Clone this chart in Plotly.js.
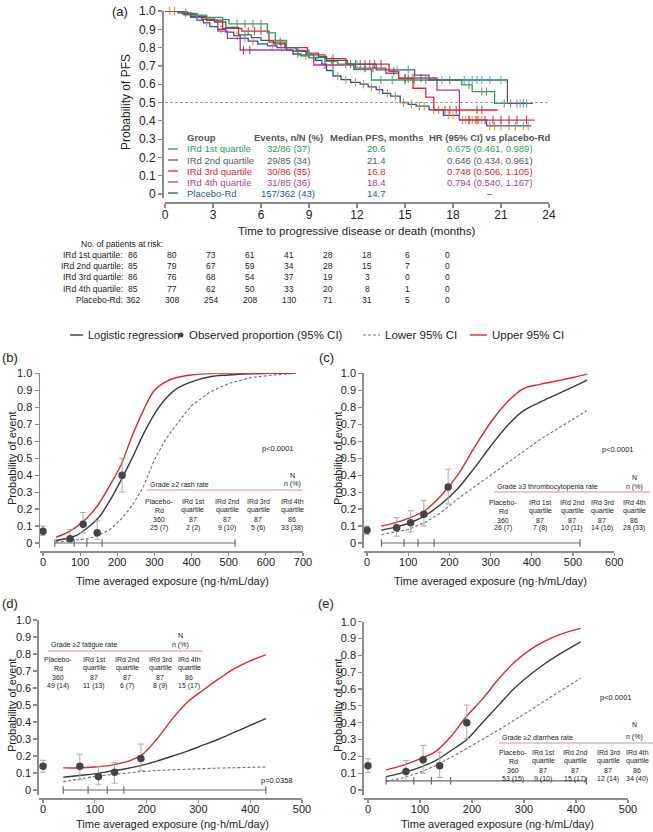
<!DOCTYPE html>
<html><head><meta charset="utf-8">
<script src="https://cdn.plot.ly/plotly-3.0.1.min.js"></script>
<style>html,body{margin:0;padding:0;background:#fff}#chart{width:653px;height:832px}</style>
</head><body><div id="chart"></div>
<script>
// ---------------- DATA ----------------
// Panel (a) Kaplan-Meier PFS
const kmGroups = ['IRd 1st quartile','IRd 2nd quartile','IRd 3rd quartile','IRd 4th quartile','Placebo-Rd'];
const kmEvents = ['32/86 (37)','29/85 (34)','30/86 (35)','31/85 (36)','157/362 (43)'];
const kmMedians = ['20.6','21.4','16.8','18.4','14.7'];
const kmHR = ['0.675 (0.461, 0.989)','0.646 (0.434, 0.961)','0.748 (0.506, 1.105)','0.794 (0.540, 1.167)','–'];

const q1Time = [0, 1.0, 1.7, 2.6, 3.6, 4.0, 6.4, 6.9, 7.6, 8.3, 9.0, 10.0, 10.8, 11.8, 12.9, 18.55, 19.2, 20.6, 22.7];
const q1Surv = [1.0, 0.99, 0.977, 0.965, 0.953, 0.93, 0.88, 0.84, 0.80, 0.76, 0.745, 0.725, 0.71, 0.68, 0.623, 0.596, 0.56, 0.495, 0.495];
const q1Cens = [1.3, 4.5, 5.0, 5.5, 6.0, 9.5, 10.4, 11.3, 13.5, 14.2, 15.0, 15.6, 16.3, 17.8, 19.0, 19.8, 20.1, 21.2, 21.6, 22.0, 22.4];

const q2Time = [0, 1.1, 1.6, 2.3, 3.1, 3.8, 4.6, 5.4, 6.0, 6.8, 7.5, 8.2, 8.8, 9.6, 10.1, 11.4, 13.2, 15.6, 16.5, 21.4, 23.0];
const q2Surv = [1.0, 0.985, 0.97, 0.955, 0.94, 0.91, 0.87, 0.855, 0.84, 0.82, 0.80, 0.785, 0.77, 0.75, 0.73, 0.71, 0.678, 0.65, 0.623, 0.495, 0.495];
const q2Cens = [2.0, 5.0, 9.0, 12.0, 14.5, 15.2, 17.3, 18.7, 19.2, 19.5, 19.8, 20.3, 21.0, 22.2, 22.6];

const q3Time = [0, 1.4, 2.0, 2.6, 3.6, 4.8, 6.5, 7.5, 8.9, 10.0, 11.3, 14.0, 14.6, 15.5, 16.3, 16.8, 20.8];
const q3Surv = [1.0, 0.985, 0.97, 0.95, 0.905, 0.89, 0.83, 0.80, 0.76, 0.74, 0.71, 0.67, 0.63, 0.578, 0.53, 0.459, 0.459];
const q3Cens = [5.2, 5.6, 6.0, 6.9, 7.2, 10.5, 11.6, 11.9, 12.2, 12.5, 12.8, 13.1, 13.5, 14.3, 15.0, 15.2, 17.5, 17.8, 18.2, 19.5, 19.8];

const q4Time = [0, 1.2, 2.0, 2.6, 3.3, 3.9, 4.7, 8.0, 9.0, 9.3, 11.8, 13.8, 14.6, 17.0, 18.4, 23.1];
const q4Surv = [1.0, 0.98, 0.965, 0.95, 0.89, 0.85, 0.787, 0.78, 0.76, 0.705, 0.688, 0.66, 0.634, 0.568, 0.404, 0.404];
const q4Cens = [4.9, 5.3, 10.0, 10.5, 12.5, 13.0, 15.0, 15.5, 16.0, 19.0, 19.5, 20.0, 20.5, 21.0, 21.5, 22.0, 22.6];

const pbTime = [0, 0.8, 1.2, 1.6, 2.0, 2.4, 2.8, 3.3, 3.8, 4.3, 4.7, 5.2, 5.8, 6.4, 7.0, 7.6, 8.0, 8.5, 9.0, 9.4, 9.8, 10.1, 10.5, 11.0, 11.6, 12.2, 12.7, 13.2, 13.6, 14.1, 14.7, 15.2, 15.7, 16.5, 17.4, 18.4, 20.1, 22.9];
const pbSurv = [1.0, 0.99, 0.98, 0.965, 0.95, 0.935, 0.915, 0.9, 0.885, 0.865, 0.85, 0.835, 0.82, 0.81, 0.8, 0.785, 0.765, 0.755, 0.745, 0.73, 0.71, 0.675, 0.645, 0.625, 0.61, 0.6, 0.585, 0.57, 0.55, 0.535, 0.5, 0.49, 0.48, 0.46, 0.43, 0.405, 0.372, 0.372];
const pbCens = [0.3, 0.6, 2.6, 3.5, 4.5, 5.0, 5.5, 6.7, 7.3, 8.3, 8.8, 10.8, 11.3, 11.9, 12.4, 12.9, 13.4, 13.9, 14.4, 14.9, 15.4, 15.9, 16.2, 16.8, 17.1, 17.7, 18.0, 18.6, 18.8, 19.0, 19.2, 19.4, 19.6, 19.8, 20.3, 20.6, 21.0, 21.5, 21.9, 22.4, 22.7];

const monthTicks = [0, 3, 6, 9, 12, 15, 18, 21, 24];

// Number at risk
const riskLabels = ['IRd 1st quartile:','IRd 2nd quartile:','IRd 3rd quartile:','IRd 4th quartile:','Placebo-Rd:'];
const riskQ1 = [86, 80, 73, 61, 41, 28, 18, 6, 0];
const riskQ2 = [85, 79, 67, 59, 34, 28, 15, 7, 0];
const riskQ3 = [86, 76, 68, 54, 37, 19, 3, 0, 0];
const riskQ4 = [85, 77, 62, 50, 33, 20, 8, 1, 0];
const riskPb = [362, 308, 254, 208, 130, 71, 31, 5, 0];

// Exposure-response panels: table columns
const colTop = ['Placebo-','IRd 1st','IRd 2nd','IRd 3rd','IRd 4th'];
const colBot = ['Rd','quartile','quartile','quartile','quartile'];
const groupN = [360, 87, 87, 87, 86];

// (b) rash
const rashN = [25, 2, 9, 5, 33];
const rashPct = [7, 2, 10, 6, 38];
const rashObsX = [0, 73, 108, 146, 213];
const rashObsY = [0.07, 0.025, 0.11, 0.06, 0.40];
const rashObsLo = [0.045, 0.005, 0.06, 0.02, 0.30];
const rashObsHi = [0.10, 0.08, 0.18, 0.13, 0.50];
const rashCurveX = [35, 60, 90, 120, 150, 180, 210, 240, 270, 300, 330, 360, 400, 450, 500, 560, 620, 680];
const rashFit = [0.015, 0.025, 0.045, 0.09, 0.15, 0.25, 0.37, 0.50, 0.64, 0.76, 0.85, 0.91, 0.95, 0.98, 0.99, 0.997, 1.0, 1.0];
const rashUpper = [0.035, 0.055, 0.095, 0.15, 0.23, 0.34, 0.46, 0.63, 0.78, 0.90, 0.95, 0.975, 0.99, 0.998, 1.0, 1.0, 1.0, 1.0];
const rashLower = [0.005, 0.01, 0.015, 0.025, 0.045, 0.08, 0.14, 0.22, 0.33, 0.49, 0.61, 0.70, 0.81, 0.89, 0.94, 0.975, 0.99, 1.0];
const rashBar = [32, 84, 118, 159, 517];

// (c) thrombocytopenia
const thrN = [26, 7, 10, 14, 28];
const thrPct = [7, 8, 11, 16, 33];
const thrObsX = [0, 72, 106, 138, 197];
const thrObsY = [0.075, 0.09, 0.12, 0.17, 0.33];
const thrObsLo = [0.05, 0.04, 0.065, 0.10, 0.23];
const thrObsHi = [0.10, 0.15, 0.19, 0.25, 0.435];
const thrCurveX = [35, 70, 100, 140, 180, 220, 260, 300, 340, 380, 420, 460, 500, 534];
const thrFit = [0.075, 0.095, 0.115, 0.16, 0.23, 0.32, 0.44, 0.57, 0.69, 0.78, 0.83, 0.875, 0.92, 0.96];
const thrUpper = [0.10, 0.12, 0.145, 0.19, 0.28, 0.40, 0.56, 0.71, 0.83, 0.91, 0.935, 0.955, 0.975, 0.995];
const thrLower = [0.05, 0.065, 0.08, 0.12, 0.18, 0.26, 0.33, 0.40, 0.47, 0.54, 0.61, 0.67, 0.73, 0.78];
const thrBar = [35, 90, 124, 163, 517];

// (d) fatigue
const fatN = [49, 11, 6, 8, 15];
const fatPct = [14, 13, 7, 9, 17];
const fatObsX = [0, 71, 107, 138, 189];
const fatObsY = [0.14, 0.14, 0.08, 0.105, 0.185];
const fatObsLo = [0.105, 0.06, 0.03, 0.04, 0.115];
const fatObsHi = [0.175, 0.21, 0.14, 0.16, 0.27];
const fatCurveX = [39, 70, 100, 130, 160, 190, 220, 250, 280, 310, 340, 370, 400, 430];
const fatFit = [0.075, 0.085, 0.095, 0.11, 0.125, 0.145, 0.17, 0.20, 0.23, 0.265, 0.30, 0.34, 0.38, 0.42];
const fatUpper = [0.13, 0.13, 0.135, 0.145, 0.165, 0.205, 0.30, 0.42, 0.52, 0.59, 0.655, 0.715, 0.76, 0.795];
const fatLower = [0.048, 0.065, 0.08, 0.09, 0.10, 0.108, 0.115, 0.12, 0.123, 0.126, 0.129, 0.131, 0.133, 0.135];
const fatBar = [39, 87, 124, 156, 430];

// (e) diarrhea
const diaN = [53, 9, 15, 12, 34];
const diaPct = [15, 10, 17, 14, 40];
const diaObsX = [0, 73, 106, 138, 190];
const diaObsY = [0.145, 0.11, 0.18, 0.145, 0.40];
const diaObsLo = [0.105, 0.05, 0.10, 0.075, 0.305];
const diaObsHi = [0.185, 0.175, 0.265, 0.225, 0.505];
const diaCurveX = [35, 70, 100, 130, 160, 190, 220, 250, 280, 310, 340, 370, 409];
const diaFit = [0.08, 0.105, 0.135, 0.175, 0.235, 0.30, 0.40, 0.50, 0.60, 0.68, 0.75, 0.81, 0.88];
const diaUpper = [0.12, 0.15, 0.185, 0.23, 0.32, 0.44, 0.54, 0.655, 0.755, 0.83, 0.885, 0.925, 0.96];
const diaLower = [0.05, 0.075, 0.105, 0.145, 0.195, 0.245, 0.30, 0.355, 0.41, 0.47, 0.53, 0.59, 0.665];
const diaBar = [35, 88, 122, 159, 420];

// ---------------- STYLE / LAYOUT HELPERS ----------------
const W = 653, H = 832;
const fx = p => p / W, fy = p => 1 - p / H;
const FONT = 'Liberation Sans, Arial, Helvetica, sans-serif';
const C = {green:'#27a05c', gray:'#5a5a5a', red:'#e3262f', purple:'#a23fa0', blue:'#1d5aa6'};
const kmColors = [C.green, C.gray, C.red, C.purple, C.blue];
const AX = '#8c8c8c';
const TXT = '#222222';

function A(x, y, text, o) {
  o = o || {};
  return {xref:'paper', yref:'paper', x:fx(x), y:fy(y), text:text, showarrow:false,
    xanchor:o.xa || 'center', yanchor:o.ya || 'middle', textangle:o.angle || 0,
    font:{family:FONT, size:o.size || 9, color:o.color || TXT}};
}
function L(x0, y0, x1, y1, color, width, dash) {
  return {type:'line', xref:'paper', yref:'paper', x0:fx(x0), x1:fx(x1), y0:fy(y0), y1:fy(y1),
    line:{color:color, width:width || 1, dash:dash || 'solid'}};
}
const yTickVals = [0,0.1,0.2,0.3,0.4,0.5,0.6,0.7,0.8,0.9,1.0];
const yTickText = ['0','0.1','0.2','0.3','0.4','0.5','0.6','0.7','0.8','0.9','1.0'];

function baseAxis(extra) {
  return Object.assign({showgrid:false, zeroline:false, showline:true, linecolor:AX, linewidth:1.5,
    ticks:'outside', ticklen:4, tickwidth:1.2, tickcolor:AX, fixedrange:true,
    tickfont:{family:FONT, size:11, color:TXT}}, extra);
}

// ---------------- TRACES ----------------
const traces = [];
function stepAt(ts, ss, t) { let v = ss[0]; for (let i = 0; i < ts.length; i++) { if (ts[i] <= t) v = ss[i]; } return v; }
const kmSets = [[q1Time,q1Surv,q1Cens],[q2Time,q2Surv,q2Cens],[q3Time,q3Surv,q3Cens],[q4Time,q4Surv,q4Cens],[pbTime,pbSurv,pbCens]];
const drawOrder = [4, 3, 2, 0, 1];
drawOrder.forEach(i => {
  const [t, s, c] = kmSets[i];
  traces.push({x:t, y:s, xaxis:'x', yaxis:'y', mode:'lines', line:{shape:'hv', color:kmColors[i], width:1.3}, hoverinfo:'skip'});
  traces.push({x:c, y:c.map(v => stepAt(t, s, v)), xaxis:'x', yaxis:'y', mode:'markers', cliponaxis:false,
    marker:{symbol:'line-ns-open', size:6, line:{color:kmColors[i], width:1}}, hoverinfo:'skip'});
});

function erPanel(xa, ya, cx, fit, up, lo, ox, oy, olo, ohi, bar, barY) {
  traces.push({x:cx, y:lo, xaxis:xa, yaxis:ya, mode:'lines', line:{color:'#6e6e6e', width:1.1, dash:'3px,2px'}, hoverinfo:'skip'});
  traces.push({x:cx, y:fit, xaxis:xa, yaxis:ya, mode:'lines', line:{color:'#3a3a3a', width:1.4, shape:'spline'}, hoverinfo:'skip'});
  traces.push({x:cx, y:up, xaxis:xa, yaxis:ya, mode:'lines', line:{color:'#e0282e', width:1.4, shape:'spline'}, hoverinfo:'skip'});
  // quartile bar
  const bx = [bar[0], bar[bar.length-1], null], by = [barY, barY, null];
  bar.forEach(b => { bx.push(b, b, null); by.push(barY - 0.022, barY + 0.022, null); });
  traces.push({x:bx, y:by, xaxis:xa, yaxis:ya, mode:'lines', line:{color:'#6a6a6a', width:1.2}, hoverinfo:'skip'});
  traces.push({x:ox, y:oy, xaxis:xa, yaxis:ya, mode:'markers', cliponaxis:false,
    marker:{color:'#444', size:7.5},
    error_y:{type:'data', symmetric:false, array:oy.map((v,i) => ohi[i]-v), arrayminus:oy.map((v,i) => v-olo[i]),
      color:'#aaaaaa', thickness:1, width:3}, hoverinfo:'skip'});
}
erPanel('x2','y2', rashCurveX, rashFit, rashUpper, rashLower, rashObsX, rashObsY, rashObsLo, rashObsHi, rashBar, 0);
erPanel('x3','y3', thrCurveX, thrFit, thrUpper, thrLower, thrObsX, thrObsY, thrObsLo, thrObsHi, thrBar, 0);
erPanel('x4','y4', fatCurveX, fatFit, fatUpper, fatLower, fatObsX, fatObsY, fatObsLo, fatObsHi, fatBar, 0);
erPanel('x5','y5', diaCurveX, diaFit, diaUpper, diaLower, diaObsX, diaObsY, diaObsLo, diaObsHi, diaBar, 0.055);

// ---------------- ANNOTATIONS & SHAPES ----------------
const ann = [], shp = [];
// panel labels
ann.push(A(120, 11, '(a)', {size:13}));
ann.push(A(10, 357, '(b)', {size:13}));
ann.push(A(326, 357, '(c)', {size:13}));
ann.push(A(10, 603, '(d)', {size:13}));
ann.push(A(326, 603, '(e)', {size:13}));

// (a) axis titles
ann.push(A(126, 102, 'Probability of PFS', {size:12, angle:-90}));
ann.push(A(357, 231, 'Time to progressive disease or death (months)', {size:11.5}));
// 0.5 reference line
shp.push({type:'line', xref:'x', yref:'y', x0:0, x1:24, y0:0.5, y1:0.5, line:{color:'#a0a0a0', width:1, dash:'3px,2px'}});

// (a) legend table
const HDR = '#555';
ann.push(A(185, 138, '<b>Group</b>', {xa:'left', size:9.5, color:HDR}));
ann.push(A(288, 138, '<b>Events, n/N (%)</b>', {size:9.5, color:HDR}));
ann.push(A(376, 138, '<b>Median PFS, months</b>', {size:9.5, color:HDR}));
ann.push(A(490, 138, '<b>HR (95% CI) vs placebo-Rd</b>', {size:9.5, color:HDR}));
const legRows = [149, 160, 171, 182, 193];
kmGroups.forEach((g, i) => {
  const y = legRows[i], c = kmColors[i];
  shp.push(L(168, y, 178, y, c, 1.3));
  ann.push(A(185, y, g, {xa:'left', size:9.5, color:c}));
  ann.push(A(288, y, kmEvents[i], {size:9.5, color:c}));
  ann.push(A(376, y, kmMedians[i], {size:9.5, color:c}));
  ann.push(A(490, y, kmHR[i], {size:9.5, color:c}));
});

// Risk table
ann.push(A(79, 244, 'No. of patients at risk:', {xa:'left', size:8.5}));
const riskRowsY = [255, 266, 277, 289, 300];
const riskColsX = [133, 172, 211, 250, 289, 328, 367, 407, 447];
const riskData = [riskQ1, riskQ2, riskQ3, riskQ4, riskPb];
riskLabels.forEach((lab, i) => {
  ann.push(A(125, riskRowsY[i], lab, {xa:'right', size:8.5}));
  riskData[i].forEach((v, j) => ann.push(A(riskColsX[j], riskRowsY[i], String(v), {size:8.5})));
});

// Middle legend (y = 335)
const LG = 335;
shp.push(L(70, LG, 83, LG, '#3a3a3a', 1.4));
ann.push(A(86, LG, 'Logistic regression', {xa:'left', size:11}));
shp.push({type:'circle', xref:'paper', yref:'paper', x0:fx(178.5), x1:fx(183.5), y0:fy(LG + 2.5), y1:fy(LG - 2.5), fillcolor:'#444', line:{width:0}});
ann.push(A(187, LG, 'Observed proportion (95% CI)', {xa:'left', size:11.5}));
shp.push(L(363, LG, 380, LG, '#6e6e6e', 1.1, '3px,2px'));
ann.push(A(383, LG, 'Lower 95% CI', {xa:'left', size:11.5}));
shp.push(L(470, LG, 487, LG, '#e0282e', 1.4));
ann.push(A(490, LG, 'Upper 95% CI', {xa:'left', size:11.5}));

// Exposure-response axis titles
const expTitle = 'Time averaged exposure (ng·h/mL/day)';
ann.push(A(172, 581, expTitle, {size:11}));
ann.push(A(490, 581, expTitle, {size:11}));
ann.push(A(172, 824, expTitle, {size:11}));
ann.push(A(497, 824, expTitle, {size:11}));
ann.push(A(12, 458, 'Probability of event', {size:11, angle:-90}));
ann.push(A(338, 458, 'Probability of event', {size:11, angle:-90}));
ann.push(A(12, 705, 'Probability of event', {size:11, angle:-90}));
ann.push(A(338, 705, 'Probability of event', {size:11, angle:-90}));

// p-values
ann.push(A(278, 448, 'p&lt;0.0001', {size:7.5}));
ann.push(A(618, 449, 'p&lt;0.0001', {size:7.5}));
ann.push(A(277, 780, 'p=0.0358', {size:7.5}));
ann.push(A(616, 697, 'p&lt;0.0001', {size:7.5}));

// incidence tables
function incTable(title, left, right, titleY, nx, nY, lineY, cols, rows, counts, pcts) {
  ann.push(A(left, titleY, title, {xa:'left', size:7}));
  ann.push(A(nx, nY, 'N', {size:7}));
  ann.push(A(nx, titleY, 'n (%)', {size:7}));
  shp.push(L(left - 1, lineY, right, lineY, '#e88a90', 1));
  cols.forEach((x, i) => {
    ann.push(A(x, rows[0], colTop[i], {size:7}));
    ann.push(A(x, rows[1], colBot[i], {size:7}));
    ann.push(A(x, rows[2], String(groupN[i]), {size:7}));
    ann.push(A(x, rows[3], counts[i] + ' (' + pcts[i] + ')', {size:7}));
  });
}
incTable('Grade ≥2 rash rate', 148, 302, 484, 292, 475, 490, [159, 193, 227, 258, 292], [501, 510, 519, 528], rashN, rashPct);
incTable('Grade ≥3 thrombocytopenia rate', 495, 650, 487, 634, 478, 492, [503, 540, 572, 602, 634], [502, 511, 520, 528], thrN, thrPct);
incTable('Grade ≥2 fatigue rate', 49, 203, 645, 180, 635, 651, [58, 94, 127, 160, 189], [659, 668, 677, 686], fatN, fatPct);
incTable('Grade ≥2 diarrhea rate', 500, 653, 737, 634, 724, 743, [513, 543, 575, 608, 637], [752, 761, 770, 779], diaN, diaPct);

// ---------------- LAYOUT ----------------
const yTick = {tickvals:yTickVals, ticktext:yTickText, range:[-0.03, 1.0]};
const xER = {ticklen:3, ticklabelstandoff:-3};
const layout = {
  width:W, height:H, margin:{l:0, r:0, t:0, b:0}, paper_bgcolor:'#fff', plot_bgcolor:'rgba(0,0,0,0)',
  showlegend:false, font:{family:FONT, size:11, color:TXT},
  xaxis: baseAxis({domain:[fx(165), fx(549)], range:[0, 24], tickvals:monthTicks, anchor:'free', position:fy(202), ticklabelstandoff:-3, tickfont:{family:FONT, size:12, color:TXT}}),
  yaxis: baseAxis({domain:[fy(197.7), fy(11)], range:[-0.02, 1.0], tickvals:yTickVals, ticktext:yTickText, anchor:'free', position:fx(162), tickfont:{family:FONT, size:12, color:TXT}}),
  xaxis2: baseAxis(Object.assign({domain:[fx(40), fx(303)], range:[-8, 700], tickvals:[0,100,200,300,400,500,600,700], anchor:'free', position:fy(551)}, xER)),
  yaxis2: baseAxis(Object.assign({domain:[fy(548.1), fy(373.3)], anchor:'x2'}, yTick)),
  xaxis3: baseAxis(Object.assign({domain:[fx(363.7), fx(614.2)], range:[-8, 600], tickvals:[0,100,200,300,400,500,600], anchor:'free', position:fy(551)}, xER)),
  yaxis3: baseAxis(Object.assign({domain:[fy(548.1), fy(373.3)], anchor:'x3'}, yTick)),
  xaxis4: baseAxis(Object.assign({domain:[fx(38.9), fx(302)], range:[-8, 500], tickvals:[0,100,200,300,400,500], anchor:'free', position:fy(798)}, xER)),
  yaxis4: baseAxis(Object.assign({domain:[fy(795.1), fy(620)], anchor:'x4'}, yTick)),
  xaxis5: baseAxis(Object.assign({domain:[fx(363.8), fx(628)], range:[-8, 500], tickvals:[0,100,200,300,400,500], anchor:'free', position:fy(798)}, xER)),
  yaxis5: baseAxis(Object.assign({domain:[fy(795.1), fy(621.7)], anchor:'x5'}, yTick)),
  annotations:ann, shapes:shp
};
Plotly.newPlot('chart', traces, layout, {displayModeBar:false, staticPlot:true});
</script></body></html>
